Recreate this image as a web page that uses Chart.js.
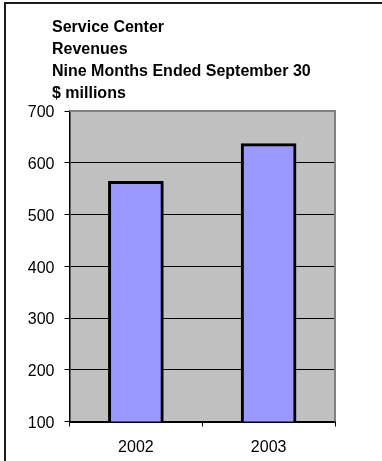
<!DOCTYPE html>
<html>
<head>
<meta charset="utf-8">
<script src="https://cdn.jsdelivr.net/npm/chart.js@4/dist/chart.umd.min.js"></script>
<style>
  html, body { margin: 0; padding: 0; background: #fff; }
  #wrap { position: relative; width: 382px; height: 461px; overflow: hidden; }
  #frame {
    position: absolute; left: 4px; top: 2px; right: -4px; bottom: -4px;
    border-top: 2px solid #1c1c1c; border-left: 2px solid #1c1c1c;
    pointer-events: none;
  }
  #title {
    position: absolute; left: 52px; top: 16px;
    font: bold 16px "Liberation Sans", Arial, sans-serif;
    line-height: 22px; color: #000;
  }
  canvas { position: absolute; left: 0; top: 0; }
</style>
</head>
<body>
<div id="wrap">
  <canvas id="chart" width="382" height="461"></canvas>
  <div id="frame"></div>
  <div id="title"></div>
</div>
<script>
// Chart data
const titleLines = ["Service Center", "Revenues", "Nine Months Ended September 30", "$ millions"];
const years = ["2002", "2003"];
const revenues = [564, 637];
const yTicks = [100, 200, 300, 400, 500, 600, 700];

document.getElementById("title").innerHTML =
  titleLines.map(t => "<div>" + t.replace(/&/g, "&amp;") + "</div>").join("");

// Grey plot area with a darker grey frame on its top and right edges
const plotArea = {
  id: "plotArea",
  beforeDraw(chart) {
    const a = chart.chartArea, c = chart.ctx;
    c.save();
    c.fillStyle = "#c0c0c0";
    c.fillRect(a.left, a.top, a.right - a.left, a.bottom - a.top);
    c.restore();
  },
  afterDatasetsDraw(chart) {
    const a = chart.chartArea, c = chart.ctx;
    c.save();
    c.strokeStyle = "#808080";
    c.lineWidth = 2;
    c.beginPath();
    c.moveTo(a.left, a.top);
    c.lineTo(a.right, a.top);
    c.lineTo(a.right, a.bottom);
    c.stroke();
    c.restore();
  }
};

const font = { family: "'Liberation Sans', Arial, sans-serif", size: 16 };

new Chart(document.getElementById("chart"), {
  type: "bar",
  data: {
    labels: years,
    datasets: [{
      data: revenues,
      backgroundColor: "#9999ff",
      borderColor: "#000000",
      borderWidth: 3,
      borderSkipped: false,
      barThickness: 55
    }]
  },
  options: {
    responsive: false,
    animation: false,
    events: [],
    layout: { padding: { top: 111, right: 47, left: 0, bottom: 0 } },
    plugins: { legend: { display: false }, title: { display: false }, tooltip: { enabled: false } },
    scales: {
      x: {
        grid: { offset: true, drawOnChartArea: false, color: "#000", lineWidth: 1, tickLength: 5 },
        border: { display: true, color: "#000", width: 2 },
        ticks: { color: "#000", font, padding: 11 },
        afterFit(s) { s.height = 39.5; }
      },
      y: {
        min: yTicks[0],
        max: yTicks[yTicks.length - 1],
        afterBuildTicks(s) { s.ticks = yTicks.map(v => ({ value: v })); },
        grid: { color: "#000", lineWidth: 1, tickLength: 5 },
        border: { display: true, color: "#000", width: 1.5 },
        ticks: { color: "#000", font, padding: 10, labelOffset: 2 },
        afterFit(s) { s.width = 69.5; }
      }
    }
  },
  plugins: [plotArea]
});
</script>
</body>
</html>
